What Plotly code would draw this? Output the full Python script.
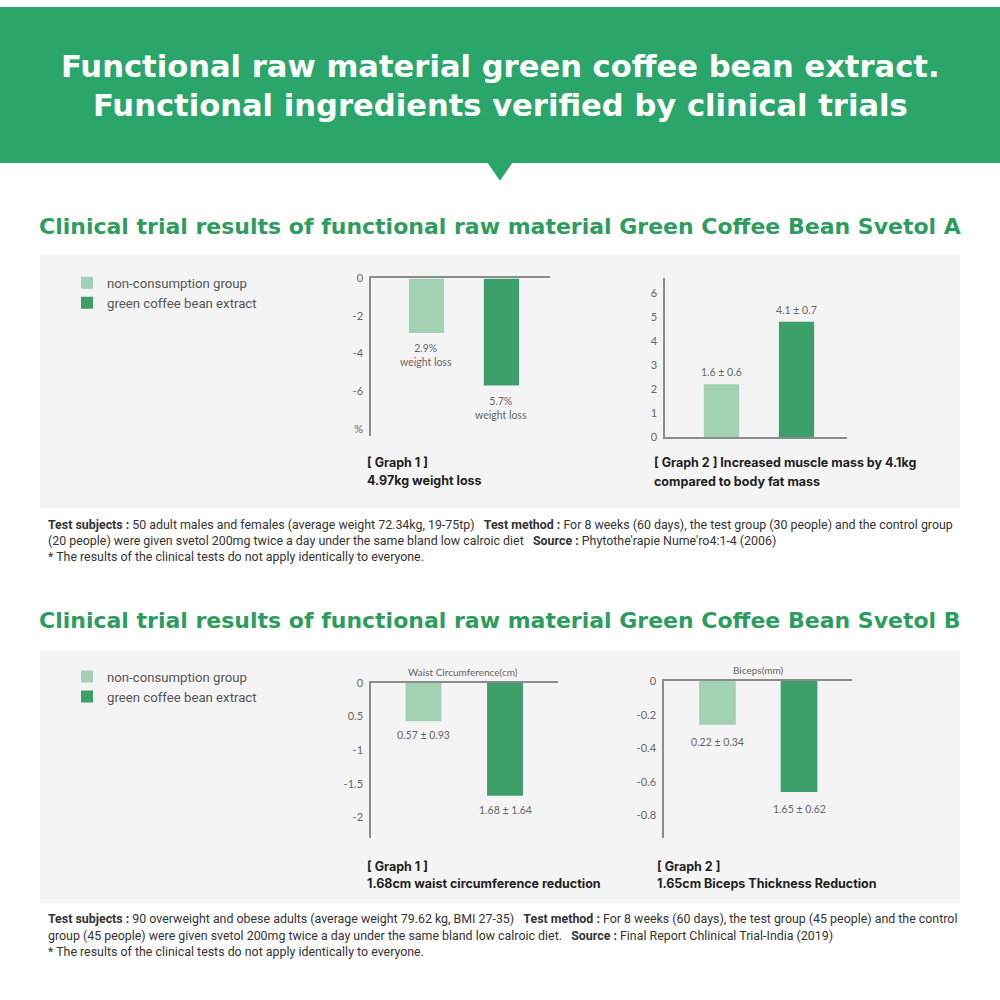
import plotly.graph_objects as go

# ---------------- data ----------------
groups = ["non-consumption group", "green coffee bean extract"]
bar_colors = ["#a3d1b4", "#3d9f69"]

a1_vals = [-2.9, -5.7]
a1_labels = ["2.9%<br>weight loss", "5.7%<br>weight loss"]
a1_tickvals = [0, -2, -4, -6, -8]
a1_ticktext = ["0", "-2", "-4", "-6", "%"]

a2_vals = [2.2, 4.8]
a2_labels = ["1.6 ± 0.6", "4.1 ± 0.7"]
a2_tickvals = [0, 1, 2, 3, 4, 5, 6]
a2_ticktext = ["0", "1", "2", "3", "4", "5", "6"]

b1_vals = [-0.57, -1.68]
b1_labels = ["0.57 ± 0.93", "1.68 ± 1.64"]
b1_tickvals = [0, -0.5, -1, -1.5, -2]
b1_ticktext = ["0", "0.5", "-1", "-1.5", "-2"]

b2_vals = [-0.26, -0.66]
b2_labels = ["0.22 ± 0.34", "1.65 ± 0.62"]
b2_tickvals = [0, -0.2, -0.4, -0.6, -0.8]
b2_ticktext = ["0", "-0.2", "-0.4", "-0.6", "-0.8"]

header_lines = ["Functional raw material green coffee bean extract.",
                "Functional ingredients verified by clinical trials"]
section_titles = ["Clinical trial results of functional raw material Green Coffee Bean Svetol A",
                  "Clinical trial results of functional raw material Green Coffee Bean Svetol B"]
captions = [
    ["[ Graph 1 ]", "4.97kg weight loss"],
    ["[ Graph 2 ] Increased muscle mass by 4.1kg", "compared to body fat mass"],
    ["[ Graph 1 ]", "1.68cm waist circumference reduction"],
    ["[ Graph 2 ]", "1.65cm Biceps Thickness Reduction"],
]
chart_titles = ["Waist Circumference(cm)", "Biceps(mm)"]
notes_a = [
    "<b>Test subjects :</b> 50 adult males and females (average weight 72.34kg, 19-75tp)   <b>Test method :</b> For 8 weeks (60 days), the test group (30 people) and the control group",
    "(20 people) were given svetol 200mg twice a day under the same bland low calroic diet   <b>Source :</b> Phytothe'rapie Nume'ro4:1-4 (2006)",
    "* The results of the clinical tests do not apply identically to everyone.",
]
notes_b = [
    "<b>Test subjects :</b> 90 overweight and obese adults (average weight 79.62 kg, BMI 27-35)   <b>Test method :</b> For 8 weeks (60 days), the test group (45 people) and the control",
    "group (45 people) were given svetol 200mg twice a day under the same bland low calroic diet.   <b>Source :</b> Final Report Chlinical Trial-India (2019)",
    "* The results of the clinical tests do not apply identically to everyone.",
]

# ---------------- helpers ----------------
def X(px):
    return px / 1000.0

def Y(py):
    return 1 - py / 1000.0

GREEN = "#2ba66b"
TITLE_GREEN = "#2f9c5f"
AXIS_COL = "#8c8c8c"
TICK_FONT = dict(family="Lato, Roboto, sans-serif", size=11, color="#666666")
LBL_FONT = dict(family="Lato, Roboto, sans-serif", size=10.5, color="#666666")
CAP_FONT = dict(family="Inter, Roboto, sans-serif", size=12.5, color="#222222")
NOTE_FONT = dict(family="Roboto, sans-serif", size=12.4, color="#333333")

fig = go.Figure()

charts = [
    dict(n=1, vals=a1_vals, labels=a1_labels, tv=a1_tickvals, tt=a1_ticktext,
         xd=(371, 550), yd=(275, 435), yr=[-8.4, 0], xr=[-0.74, 1.647], w=0.47,
         neg=True, legend="legend", shift=-7),
    dict(n=2, vals=a2_vals, labels=a2_labels, tv=a2_tickvals, tt=a2_ticktext,
         xd=(665, 847), yd=(275, 436), yr=[0, 6.6], xr=[-0.753, 1.673], w=0.47,
         neg=False, legend="legend", shift=4),
    dict(n=3, vals=b1_vals, labels=b1_labels, tv=b1_tickvals, tt=b1_ticktext,
         xd=(371, 558), yd=(685, 842), yr=[-2.31, 0], xr=[-0.644, 1.65], w=0.44,
         neg=True, legend="legend2", shift=-6),
    dict(n=4, vals=b2_vals, labels=b2_labels, tv=b2_tickvals, tt=b2_ticktext,
         xd=(664, 852), yd=(683, 842), yr=[-0.935, 0], xr=[-0.656, 1.65], w=0.45,
         neg=True, legend="legend2", shift=-9),
]

annotations = []
for c in charts:
    n = c["n"]
    xa = "x" if n == 1 else f"x{n}"
    ya = "y" if n == 1 else f"y{n}"
    for i in range(2):
        fig.add_trace(go.Bar(
            x=[i], y=[c["vals"][i]], width=c["w"], name=groups[i],
            marker=dict(color=bar_colors[i], line=dict(width=0)),
            xaxis=xa, yaxis=ya, legend=c["legend"],
            showlegend=(n in (1, 3)), hoverinfo="skip"))
        annotations.append(dict(
            x=i, y=c["vals"][i], xref=xa, yref=ya, text=c["labels"][i],
            showarrow=False, yanchor="top" if c["neg"] else "bottom",
            yshift=c["shift"], font=LBL_FONT, align="center"))
    xkey = "xaxis" if n == 1 else f"xaxis{n}"
    ykey = "yaxis" if n == 1 else f"yaxis{n}"
    fig.update_layout(**{
        xkey: dict(domain=[X(c["xd"][0]), X(c["xd"][1])], range=c["xr"],
                   anchor=ya, side="top" if c["neg"] else "bottom",
                   showticklabels=False, showgrid=False, zeroline=False,
                   showline=True, linecolor=AXIS_COL, linewidth=1.5,
                   ticks="", fixedrange=True),
        ykey: dict(domain=[Y(c["yd"][1]), Y(c["yd"][0])], range=c["yr"],
                   anchor=xa, tickvals=c["tv"], ticktext=c["tt"],
                   showgrid=False, zeroline=False, showline=True,
                   linecolor=AXIS_COL, linewidth=1.5, ticks="",
                   tickfont=TICK_FONT, ticklabelstandoff=4, fixedrange=True),
    })

# captions under charts
cap_pos = [(365, 462, 480), (652, 462, 481), (365, 871, 888), (655, 871, 888)]
for (cx, y1, y2), cap in zip(cap_pos, captions):
    annotations.append(dict(x=X(cx), y=Y(y1), xref="paper", yref="paper",
                            text=f"<b>{cap[0]}</b>", showarrow=False,
                            xanchor="left", yanchor="middle", font=CAP_FONT))
    annotations.append(dict(x=X(cx), y=Y(y2), xref="paper", yref="paper",
                            text=f"<b>{cap[1]}</b>", showarrow=False,
                            xanchor="left", yanchor="middle", font=CAP_FONT))

# small chart titles (section B)
for (tx, ty), t in zip([(463, 674), (758, 672)], chart_titles):
    annotations.append(dict(x=X(tx), y=Y(ty), xref="paper", yref="paper",
                            text=t, showarrow=False, xanchor="center",
                            yanchor="middle",
                            font=dict(family="Lato, Roboto, sans-serif", size=10, color="#666666")))

# header text
for ty, t in zip([60, 100], header_lines):
    annotations.append(dict(x=0.5, y=Y(ty), xref="paper", yref="paper",
                            text=f"<b>{t}</b>", showarrow=False,
                            xanchor="center", yanchor="middle",
                            font=dict(family="DejaVu Sans, sans-serif", size=30.6, color="white")))

# section titles
for ty, t in zip([222, 622], section_titles):
    annotations.append(dict(x=X(37), y=Y(ty), xref="paper", yref="paper",
                            text=f"<b>{t}</b>", showarrow=False,
                            xanchor="left", yanchor="middle",
                            font=dict(family="DejaVu Sans, sans-serif", size=22, color=TITLE_GREEN)))

# notes
for base, notes in [(524, notes_a), (924, notes_b)]:
    for k, t in enumerate(notes):
        annotations.append(dict(x=X(46), y=Y(base + 16.5 * k), xref="paper", yref="paper",
                                text=t, showarrow=False, xanchor="left",
                                yanchor="middle", font=NOTE_FONT))

shapes = [
    dict(type="rect", xref="paper", yref="paper", x0=0, x1=1, y0=Y(158), y1=1,
         fillcolor=GREEN, line=dict(width=0), layer="below"),
    dict(type="path", xref="paper", yref="paper",
         path=f"M {X(487)},{Y(157)} L {X(513)},{Y(157)} L {X(500)},{Y(176)} Z",
         fillcolor=GREEN, line=dict(width=0), layer="below"),
    dict(type="rect", xref="paper", yref="paper", x0=X(40), x1=X(960), y0=Y(507), y1=Y(251),
         fillcolor="#f4f4f4", line=dict(width=0), layer="below"),
    dict(type="rect", xref="paper", yref="paper", x0=X(40), x1=X(960), y0=Y(908), y1=Y(652),
         fillcolor="#f4f4f4", line=dict(width=0), layer="below"),
]

leg_common = dict(xanchor="left", yanchor="top", bgcolor="rgba(0,0,0,0)",
                  font=dict(family="Roboto, sans-serif", size=13.2, color="#555555"),
                  itemwidth=30, tracegroupgap=0, borderwidth=0, traceorder="normal")

fig.update_layout(
    width=1000, height=1000,
    margin=dict(l=0, r=0, t=0, b=0),
    paper_bgcolor="white", plot_bgcolor="rgba(0,0,0,0)",
    barmode="overlay",
    annotations=annotations, shapes=shapes,
    legend=dict(x=X(67), y=Y(264), **leg_common),
    legend2=dict(x=X(67), y=Y(663), **leg_common),
    font=dict(family="Roboto, sans-serif"),
)

post = ("document.documentElement.style.margin='0';"
        "document.documentElement.style.height='1000px';"
        "document.documentElement.style.overflow='hidden';"
        "document.body.style.margin='0';document.body.style.padding='0';"
        "document.body.style.height='1000px';"
        "document.body.style.overflow='hidden';"
        "var gd=document.getElementById('{plot_id}');"
        "gd.style.position='fixed';gd.style.top='0px';gd.style.left='0px';")

fig.write_html("out.html", config={"displayModeBar": False}, post_script=post)
